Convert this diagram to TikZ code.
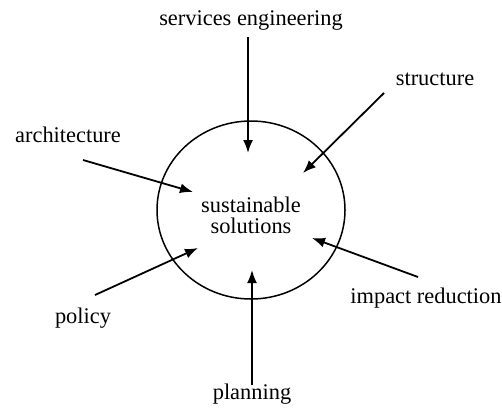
\documentclass[tikz,border=0pt]{standalone}
\usepackage{fontspec}
\setmainfont{Liberation Serif}
\newfontfamily\lblfont{Liberation Serif}
\usetikzlibrary{arrows.meta}
\begin{document}
\begin{tikzpicture}[x=0.5pt,y=-0.5pt,
    lbl/.style={font=\lblfont\fontsize{11.2}{10.5}\selectfont, inner sep=0pt},
    feed/.style={-{Latex[length=6.5pt,width=5pt]}, line width=0.9pt}]
    \useasboundingbox (0,0) rectangle (502,413);
    \draw[line width=0.75pt] (251,210) ellipse (47pt and 44.5pt);
    \node[lbl, align=center] (sus) at (251,215) {sustainable\\solutions};
    % labels round the circle
    \node[lbl, anchor=base] (ser) at (251,25) {services engineering};
    \node[lbl, anchor=base] (str) at (435,85) {structure};
    \node[lbl, anchor=base] (arch) at (68,142) {architecture};
    \node[lbl, anchor=base west] (imp) at (350,303) {impact reduction};
    \node[lbl, anchor=base] (pol) at (83,323) {policy};
    \node[lbl, anchor=base] (plan) at (252,399) {planning};
    % ends of the arrows
    \coordinate (ser-s) at (248,37);   \coordinate (ser-t) at (248,153);
    \coordinate (str-s) at (384,93);   \coordinate (str-t) at (303,173);
    \coordinate (arch-s) at (83,160);  \coordinate (arch-t) at (193,192);
    \coordinate (imp-s) at (418,277);  \coordinate (imp-t) at (312,238);
    \coordinate (pol-s) at (95,295);   \coordinate (pol-t) at (198,248);
    \coordinate (plan-s) at (252,385); \coordinate (plan-t) at (252,270);
    \draw[feed] (ser-s) -- (ser-t);
    \draw[feed] (str-s) -- (str-t);
    \draw[feed] (arch-s) -- (arch-t);
    \draw[feed] (imp-s) -- (imp-t);
    \draw[feed] (pol-s) -- (pol-t);
    \draw[feed] (plan-s) -- (plan-t);
\end{tikzpicture}
\end{document}
